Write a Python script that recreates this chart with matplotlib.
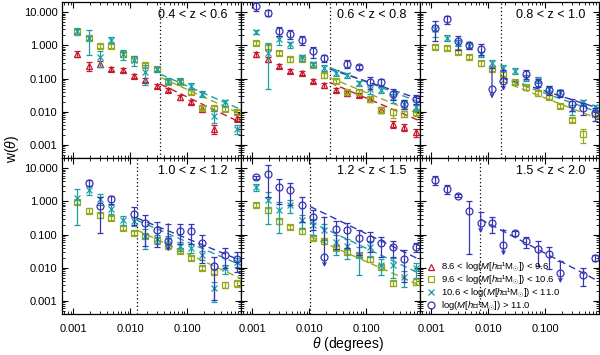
import numpy as np
import matplotlib.pyplot as plt
from matplotlib.ticker import FuncFormatter, NullFormatter

plt.rcParams['font.family'] = ['Liberation Sans', 'DejaVu Sans']
plt.rcParams['mathtext.fontset'] = 'custom'
plt.rcParams['mathtext.rm'] = 'Liberation Sans'
plt.rcParams['mathtext.it'] = 'Liberation Sans:italic'

nan = np.nan

# angular bins (degrees)
theta = [0.00117, 0.00186, 0.00295, 0.00468, 0.0074, 0.0117, 0.0186, 0.0295,
         0.0468, 0.074, 0.117, 0.186, 0.295, 0.468, 0.74]

zbins = ['0.4 < z < 0.6', '0.6 < z < 0.8', '0.8 < z < 1.0',
         '1.0 < z < 1.2', '1.2 < z < 1.5', '1.5 < z < 2.0']
theta_cut = [0.034, 0.023, 0.017, 0.013, 0.0104, 0.0073]

labels = [r'8.6 < log($M$[$h$⁻¹M$_{\odot}$]) < 9.6',
          r'9.6 < log($M$[$h$⁻¹M$_{\odot}$]) < 10.6',
          r'10.6 < log($M$[$h$⁻¹M$_{\odot}$]) < 11.0',
          r'log($M$[$h$⁻¹M$_{\odot}$]) > 11.0']
colors = ['#c41a2c', '#98a81c', '#1c9ea6', '#3434b4']
markers = ['^', 's', 'x', 'o']

# ---- 0.4 < z < 0.6 ----  (errors are sigma/w)
red1 = [0.55, 0.24, 0.28, 0.20, 0.18, 0.12, 0.091, 0.060, 0.046, 0.027, 0.020, 0.0125, 0.0031, nan, 0.0067]
red1_e = [0.2, 0.3, 0.2, 0.15, 0.15, 0.15, 0.15, 0.15, 0.15, 0.15, 0.15, 0.2, 0.3, nan, 0.25]
olive1 = [2.5, 1.7, 0.95, 0.95, 0.53, 0.38, 0.26, 0.20, 0.081, 0.076, 0.040, 0.013, 0.013, 0.012, 0.0095]
olive1_e = [0.2, 0.15, 0.15, 0.15, 0.15, 0.15, 0.15, 0.15, 0.15, 0.15, 0.15, 0.15, 0.15, 0.15, 0.15]
cyan1 = [2.7, 1.7, 0.45, 1.45, 0.55, 0.36, 0.16, 0.19, 0.087, 0.087, 0.061, 0.035, 0.0077, 0.019, 0.003]
cyan1_e = [0.2, 0.7, 0.5, 0.2, 0.35, 0.35, 0.6, 0.2, 0.2, 0.2, 0.2, 0.2, 0.4, 0.2, 0.3]

# ---- 0.6 < z < 0.8 ----
red2 = [0.54, 0.38, 0.24, 0.17, 0.15, 0.085, 0.063, 0.046, 0.036, 0.032, 0.024, 0.0115, 0.0042, 0.0034, 0.0024]
red2_e = [0.15, 0.15, 0.15, 0.15, 0.15, 0.15, 0.15, 0.15, 0.15, 0.15, 0.15, 0.2, 0.25, 0.25, 0.3]
olive2 = [1.2, 0.9, 0.60, 0.38, 0.40, 0.26, 0.126, 0.085, 0.038, 0.038, 0.024, 0.0115, 0.0095, 0.0085, 0.0095]
olive2_e = [0.15, 0.15, 0.15, 0.15, 0.15, 0.15, 0.15, 0.15, 0.15, 0.15, 0.15, 0.15, 0.3, 0.2, 0.2]
cyan2 = [2.5, 0.6, 1.5, 1.07, 0.43, 0.27, 0.21, 0.15, 0.126, 0.072, 0.050, 0.046, 0.027, 0.017, 0.0135]
cyan2_e = [0.15, 0.92, 0.3, 0.2, 0.2, 0.2, 0.2, 0.2, 0.2, 0.2, 0.3, 0.2, 0.3, 0.3, 0.2]
blue2 = [15.5, 9.7, 2.7, 2.2, 1.44, 0.66, 0.42, nan, 0.28, 0.23, 0.078, 0.078, 0.035, 0.017, 0.024]
blue2_e = [0.3, 0.2, 0.3, 0.3, 0.3, 0.35, 0.25, nan, 0.25, 0.15, 0.4, 0.25, 0.35, 0.3, 0.3]

# ---- 0.8 < z < 1.0 ----
olive3 = [0.89, 0.85, 0.63, 0.45, 0.29, 0.20, 0.14, 0.081, 0.054, 0.036, 0.028, 0.015, 0.0058, 0.0021, 0.0085]
olive3_e = [0.15, 0.15, 0.15, 0.15, 0.15, 0.15, 0.15, 0.15, 0.15, 0.15, 0.15, 0.15, 0.15, 0.45, 0.2]
cyan3 = [3.0, 1.7, 1.2, 0.95, 0.54, 0.30, 0.21, 0.17, 0.107, 0.091, 0.050, 0.038, 0.012, 0.019, 0.0135]
cyan3_e = [0.4, 0.2, 0.2, 0.2, 0.2, 0.2, 0.2, 0.2, 0.2, 0.2, 0.2, 0.2, 0.35, 0.2, 0.2]
blue3 = [3.4, 6.0, 1.35, 1.0, 0.8, 0.05, 0.085, nan, 0.14, 0.075, 0.045, 0.037, 0.017, 0.013, 0.009]
blue3_e = [0.6, 0.25, 0.45, 0.25, 0.35, 3.2, 1.2, nan, 0.3, 0.25, 0.3, 0.25, 0.4, 0.4, 0.4]

# ---- 1.0 < z < 1.2 ----
olive4 = [0.95, 0.53, 0.38, 0.32, 0.16, 0.115, 0.091, 0.067, 0.046, 0.032, 0.020, 0.010, 0.0076, 0.0030, 0.0034]
olive4_e = [0.15, 0.15, 0.15, 0.15, 0.15, 0.15, 0.15, 0.15, 0.15, 0.15, 0.15, 0.15, 0.15, 0.2, 0.2]
cyan4 = [1.3, 2.2, 1.2, 0.6, 0.28, 0.26, 0.09, 0.076, 0.068, 0.046, 0.040, 0.024, 0.0024, 0.0095, 0.015]
cyan4_e = [0.85, 0.3, 0.35, 0.3, 0.3, 0.3, 0.6, 0.3, 0.3, 0.3, 0.3, 0.3, 0.6, 0.3, 0.3]
blue4 = [nan, 3.6, 0.72, 1.15, nan, 0.43, 0.22, 0.14, 0.062, 0.13, 0.13, 0.055, 0.011, 0.025, 0.019]
blue4_e = [nan, 0.2, 0.85, 0.3, nan, 0.55, 0.8, 0.7, 2.4, 0.6, 0.6, 0.75, 0.9, 0.6, 0.6]

# ---- 1.2 < z < 1.5 ----
olive5 = [0.79, 0.54, 0.25, 0.17, 0.126, 0.079, 0.063, 0.040, 0.030, 0.025, 0.018, 0.0107, 0.0034, nan, 0.0038]
olive5_e = [0.15, 0.15, 0.15, 0.15, 0.15, 0.15, 0.15, 0.15, 0.15, 0.15, 0.15, 0.15, 0.15, nan, 0.2]
cyan5 = [2.7, 1.07, 0.54, 0.76, 0.27, 0.19, 0.134, 0.060, 0.046, 0.024, 0.043, 0.012, 0.012, 0.0054, 0.0095]
cyan5_e = [0.25, 0.8, 0.8, 0.4, 0.4, 0.5, 0.5, 0.6, 0.6, 0.75, 0.5, 0.5, 0.6, 0.5, 0.5]
blue5 = [5.4, 6.7, 2.7, 2.2, 0.77, 0.34, 0.021, 0.15, 0.134, 0.079, 0.076, 0.054, 0.043, 0.019, 0.043]
blue5_e = [0.1, 0.8, 0.7, 0.65, 0.7, 0.6, 15.0, 0.75, 0.7, 0.7, 0.6, 0.6, 0.5, 0.8, 0.3]

# ---- 1.5 < z < 2.0 ----
blue6 = [4.4, 2.4, 1.5, 0.51, 0.22, 0.22, 0.047, 0.11, 0.062, 0.037, 0.026, 0.0069, nan, 0.0062, 0.020]
blue6_e = [0.3, 0.3, 0.1, 0.95, 1.2, 0.5, 2.0, 0.2, 0.35, 0.7, 0.65, 1.25, nan, 0.55, 0.2]

# power-law fits: w at 0.1 deg and slope
fit_amp = [[0.028, 0.047, 0.060, None],
           [0.026, 0.038, 0.081, 0.083],
           [None, 0.026, 0.036, 0.042],
           [None, 0.027, 0.060, 0.076],
           [None, 0.0155, 0.039, 0.107],
           [None, None, None, 0.0275]]
fit_slope = [[-0.82, -0.78, -0.75, None],
             [-0.73, -0.70, -0.66, -0.57],
             [None, -0.67, -0.61, -0.55],
             [None, -0.80, -0.74, -0.70],
             [None, -0.76, -0.81, -0.83],
             [None, None, None, -0.90]]

W = [[red1, olive1, cyan1, None],
     [red2, olive2, cyan2, blue2],
     [None, olive3, cyan3, blue3],
     [None, olive4, cyan4, blue4],
     [None, olive5, cyan5, blue5],
     [None, None, None, blue6]]
E = [[red1_e, olive1_e, cyan1_e, None],
     [red2_e, olive2_e, cyan2_e, blue2_e],
     [None, olive3_e, cyan3_e, blue3_e],
     [None, olive4_e, cyan4_e, blue4_e],
     [None, olive5_e, cyan5_e, blue5_e],
     [None, None, None, blue6_e]]

xmin, xmax = 0.00063, 0.88
ymin, ymax = 0.0004, 20

fig, axes = plt.subplots(2, 3, figsize=(6, 3.55), dpi=100, sharex=True, sharey=True)
fig.subplots_adjust(left=0.103, right=0.998, top=0.994, bottom=0.115, wspace=0, hspace=0)

th = np.array(theta)
for i, ax in enumerate(axes.flat):
    ax.set_xscale('log')
    ax.set_yscale('log')
    ax.set_xlim(xmin, xmax)
    ax.set_ylim(ymin, ymax)
    ax.axvline(theta_cut[i], color='k', ls=(0, (1, 2)), lw=0.9)

    for j in range(4):
        if W[i][j] is None:
            continue
        c = colors[j]
        w = np.array(W[i][j])
        s = np.array(E[i][j]) * w
        ok = ~np.isnan(w)
        lim = ok & (s >= w)
        nrm = ok & ~lim
        ax.errorbar(th[nrm], w[nrm], yerr=[s[nrm], s[nrm]], fmt=markers[j], ms=5,
                    mfc='none', mec=c, mew=0.9, ecolor=c, elinewidth=0.9,
                    capsize=2.2, capthick=0.9, zorder=3 + j)
        # upper limits: bar from top down to an arrow
        for x, y, e in zip(th[lim], w[lim], s[lim]):
            ax.plot([x], [y], marker=markers[j], ms=5, mfc='none', mec=c, mew=0.9, zorder=3 + j)
            ax.plot([x], [y + e], marker='_', ms=4.4, mew=0.9, color=c, zorder=3 + j)
            ax.annotate('', xy=(x, y / 2), xytext=(x, y + e),
                        arrowprops=dict(arrowstyle='->', color=c, lw=0.9,
                                        shrinkA=0, shrinkB=0, mutation_scale=6),
                        zorder=3 + j)
        if fit_amp[i][j] is not None:
            tt = np.logspace(np.log10(theta_cut[i]), np.log10(xmax), 50)
            ax.plot(tt, fit_amp[i][j] * (tt / 0.1) ** fit_slope[i][j], color=c,
                    ls=(0, (5, 3)), lw=1, zorder=2)

    ax.text(0.927, 0.918, zbins[i], transform=ax.transAxes, ha='right', va='center',
            fontsize=9)
    ax.tick_params(which='both', direction='in', top=True, right=True, labelsize=8)
    ax.tick_params(which='major', length=4, width=0.8)
    ax.tick_params(which='minor', length=2, width=0.6)
    ax.tick_params(axis='x', pad=7)
    ax.tick_params(axis='y', pad=3)
    ax.xaxis.set_major_formatter(FuncFormatter(lambda v, p: '%.3f' % v))
    ax.yaxis.set_major_formatter(FuncFormatter(lambda v, p: '%.3f' % v))
    ax.xaxis.set_minor_formatter(NullFormatter())
    ax.yaxis.set_minor_formatter(NullFormatter())
    for sp in ax.spines.values():
        sp.set_linewidth(0.9)

# key in the last panel
lax = axes[1, 2]
for j, yk in enumerate([0.303, 0.223, 0.140, 0.057]):
    lax.plot([0.065], [yk], marker=markers[j], ms=5, mfc='none', mec=colors[j], mew=0.9,
             ls='none', transform=lax.transAxes, zorder=10)
    lax.text(0.118, yk, labels[j], transform=lax.transAxes, ha='left', va='center',
             fontsize=6.8, zorder=10)

fig.text(0.02, 0.58, r'w($\theta$)', rotation=90, ha='center', va='center', fontsize=10)
fig.text(0.58, 0.031, r'$\theta$ (degrees)', ha='center', va='center', fontsize=10)

fig.savefig('out.png', dpi=100)
